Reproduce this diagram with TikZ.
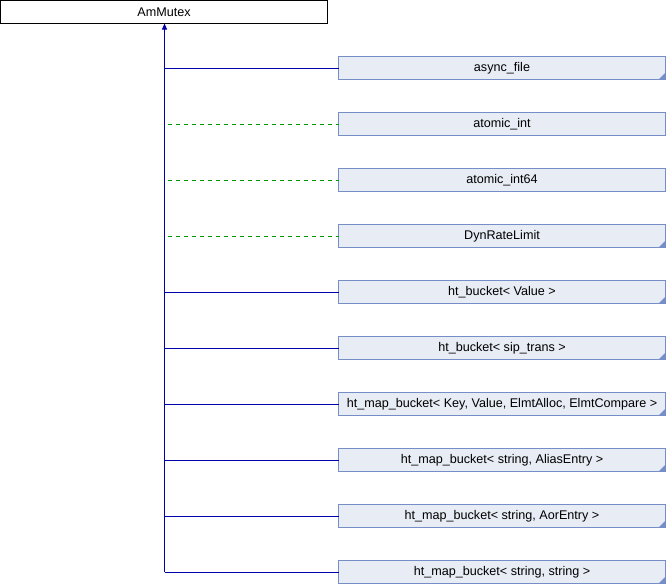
\documentclass[tikz,border=0pt]{standalone}
\usepackage{fontspec}
\setmainfont{Liberation Sans}
\usetikzlibrary{arrows.meta}
\definecolor{boxfill}{RGB}{232,236,245}
\definecolor{boxline}{RGB}{118,142,200}
\definecolor{inhblue}{RGB}{0,0,170}
\definecolor{inhgreen}{RGB}{0,148,0}
\tikzset{
  x=1pt,y=-1pt,
  base/.style={draw=black,fill=white,line width=1pt,minimum width=327pt,minimum height=23pt,inner sep=0pt,outer sep=0pt,font=\fontsize{12.6}{14}\selectfont,anchor=north west},
  cls/.style={draw=boxline,fill=boxfill,line width=1pt,minimum width=327pt,minimum height=23pt,inner sep=0pt,outer sep=0pt,font=\fontsize{12.6}{14}\selectfont,anchor=north west},
  pub/.style={draw=inhblue,line width=1pt},
  priv/.style={draw=inhgreen,line width=1pt,dash pattern=on 4.5pt off 3.5pt}
}
\begin{document}
\begin{tikzpicture}
\useasboundingbox (0,0) rectangle (666,584);
\node[base] (root) at (0.5,0.5) {AmMutex};
\node[cls] (c1) at (338.5,56.5) {async\_file};
\node[cls] (c2) at (338.5,112.5) {atomic\_int};
\node[cls] (c3) at (338.5,168.5) {atomic\_int64};
\node[cls] (c4) at (338.5,224.5) {DynRateLimit};
\node[cls] (c5) at (338.5,280.5) {ht\_bucket\textless{} Value \textgreater{}};
\node[cls] (c6) at (338.5,336.5) {ht\_bucket\textless{} sip\_trans \textgreater{}};
\node[cls] (c7) at (338.5,392.5) {ht\_map\_bucket\textless{} Key, Value, ElmtAlloc, ElmtCompare \textgreater{}};
\node[cls] (c8) at (338.5,448.5) {ht\_map\_bucket\textless{} string, AliasEntry \textgreater{}};
\node[cls] (c9) at (338.5,504.5) {ht\_map\_bucket\textless{} string, AorEntry \textgreater{}};
\node[cls] (c10) at (338.5,560.5) {ht\_map\_bucket\textless{} string, string \textgreater{}};
\foreach \n in {c1,c4,c5,c6,c7,c8,c9,c10}{
  \fill[boxline] (\n.south east) ++(-0.5pt,0.5pt) -- ++(-6pt,0) -- ++(6pt,6pt) -- cycle;
}
\coordinate (trunkbot) at (164.5,572);
\draw[pub,-{Triangle[width=5pt,length=6pt]}] (trunkbot) -- (root.south -| trunkbot);
\foreach \n in {c1,c5,c6,c7,c8,c9,c10}{
  \draw[pub] (\n.west -| trunkbot) -- (\n.west);
}
\foreach \n in {c2,c3,c4}{
  \draw[priv] ([xshift=3pt]\n.west -| trunkbot) -- (\n.west);
}
\end{tikzpicture}
\end{document}
